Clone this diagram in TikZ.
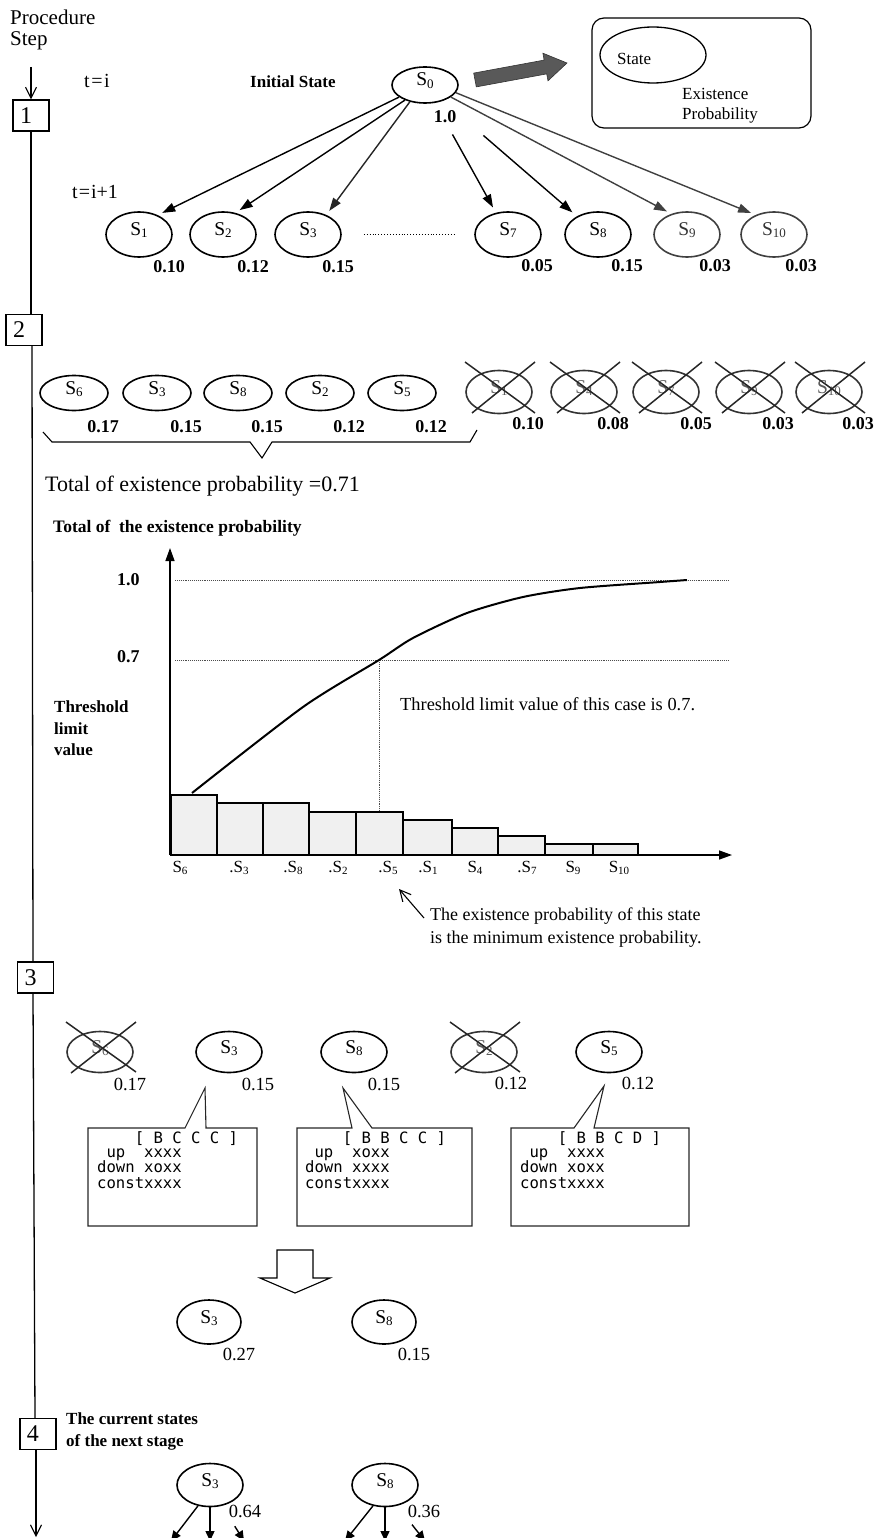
\documentclass[tikz,border=0pt]{standalone}
\usepackage{fontspec}
\setmainfont{Liberation Serif}
\newfontfamily\monof{DejaVu Sans Mono}
\usetikzlibrary{arrows.meta,shapes.geometric}
\newcommand\setfs[1]{\fontsize{#1}{#1}\selectfont}
\newcommand\stt[1]{S\raisebox{-2.5pt}{\setfs{13}#1}}
\newcommand\sttsm[1]{S\raisebox{-2pt}{\setfs{11}#1}}
\begin{document}
\begin{tikzpicture}[x=1pt,y=-1pt,
  ln/.style={line width=1.3pt},
  st/.style={ellipse, draw, line width=1.6pt, inner sep=0pt, minimum width=66pt,
    minimum height=45pt, text height=13pt, text depth=11pt, font=\setfs{19.5}},
  st2/.style={st, minimum width=68pt, minimum height=35pt},
  stx/.style={st, minimum height=43pt, draw=black!80, text=black!65},
  st3/.style={st, minimum height=41pt},
  pb/.style={font=\bfseries\setfs{18}, inner sep=0pt},
  pr/.style={font=\setfs{18.5}, inner sep=0pt},
  stepbox/.style={draw, line width=1.2pt, inner sep=0pt, minimum width=36pt,
    minimum height=31pt, text width=22pt, align=left, font=\setfs{24}},
  tx/.style={inner sep=0pt, anchor=base west},
  tri/.style={-{Triangle[length=13pt,width=9pt]}, line width=1.4pt},
  tri2/.style={-{Triangle[length=10pt,width=9pt]}, line width=1.4pt},
  barb/.style={-{Straight Barb[length=11pt,width=11pt]}, line width=1.1pt},
  cross/.style={line width=1.5pt, black!85},
  bar/.style={draw, line width=1.5pt, fill=gray!12},
  guide/.style={densely dotted, line width=0.9pt, black!70},
  monotx/.style={tx, font=\monof\setfs{15.6}},
  callout/.style={line width=1.1pt, black!85},
]
\useasboundingbox (0,0) rectangle (875,1538);

% ---------- procedure line with step boxes ----------
\node[tx, font=\setfs{21}] at (10,25) {Procedure};
\node[tx, font=\setfs{21}] at (10,46) {Step};
\node[stepbox] (b1) at (31,115.5) {1};
\node[stepbox] (b2) at (24,330) {2};
\node[stepbox] (b3) at (35.5,977.5) {3};
\node[stepbox] (b4) at (38,1434) {4};
\coordinate (top) at (31,67);
\coordinate (bot) at (36,1537);
\draw[barb] (top) -- (b1.north);
\draw[ln] (b1.south) -- (b1.south |- b2.north);
\draw[ln] ([xshift=8pt]b2.south) -- ([xshift=-2.5pt]b3.north);
\draw[ln] ([xshift=-2.5pt]b3.south) -- ([xshift=-3pt]b4.north);
\draw[barb] ([xshift=-2pt]b4.south) -- (bot);

% ---------- step 1 ----------
\node[tx, font=\setfs{20}] at (84,88) {t\hspace{1.5pt}=\hspace{1.5pt}i};
\node[tx, font=\bfseries\setfs{17}] at (250,88) {Initial State};
\node[st, minimum height=36pt] (S0) at (425,85) {\stt{0}};
\node[pb] at ([shift={(20,32)}]S0.center) {1.0};

% legend arrow and legend box
\fill[black!65, draw=black!80, line width=0.6pt] (476.3,86.9) -- (546.7,73.9) -- (548,80.8) -- (567,63)
  -- (542.9,53.2) -- (544.1,60.1) -- (473.7,73.1) -- cycle;
\draw[line width=1.2pt, rounded corners=12pt] (592,18) rectangle (811,128);
\node[ellipse, draw, line width=1.3pt, minimum width=106pt, minimum height=56pt] (leg) at (653,55) {};
\node[tx, font=\setfs{17}] at (617,65) {State};
\node[tx, font=\setfs{17}] at (682,100) {Existence};
\node[tx, font=\setfs{17}] at (682,120) {Probability};

\node[tx, font=\setfs{20}] at (72,199) {t\hspace{1pt}=\hspace{1pt}i+1};
\node[st] (a1) at (139,234.5) {\stt{1}};
\node[st] (a2) at (223,234.5) {\stt{2}};
\node[st] (a3) at (308,234.5) {\stt{3}};
\node[st] (a7) at (508,234.5) {\stt{7}};
\node[st] (a8) at (598,234.5) {\stt{8}};
\node[st, draw=black!75, text=black!80] (a9) at (687,234.5) {\stt{9}};
\node[st, draw=black!75, text=black!80] (a10) at (774,234.5) {\stt{10}};
\node[pb] at ([shift={(30,32.5)}]a1.center) {0.10};
\node[pb] at ([shift={(30,32.5)}]a2.center) {0.12};
\node[pb] at ([shift={(30,32.5)}]a3.center) {0.15};
\node[pb] at ([shift={(29,31)}]a7.center) {0.05};
\node[pb] at ([shift={(29,31)}]a8.center) {0.15};
\node[pb] at ([shift={(28,31)}]a9.center) {0.03};
\node[pb] at ([shift={(27,31)}]a10.center) {0.03};
\draw[dotted, line width=0.9pt] ([xshift=22pt]a3.east) -- ([xshift=-20pt]a7.west);

\draw[tri, shorten >=5pt] (S0.205) -- (a1.46);
\draw[tri, shorten >=5pt] (S0.217) -- (a2.60);
\draw[tri, shorten >=5pt, black!85] (S0.228) -- (a3.47);
\draw[tri, shorten <=36pt, shorten >=6pt] (S0) -- (a7);
\draw[tri, shorten <=53pt, shorten >=6pt] (S0) -- (a8);
\draw[tri, shorten >=5pt, black!75] (S0.-25) -- (a9.127);
\draw[tri, shorten >=5pt, black!75] (S0.-14) -- (a10.133);

% ---------- step 2 ----------
\node[st2] (c6) at (74,393) {\stt{6}};
\node[st2] (c3) at (157,393) {\stt{3}};
\node[st2] (c8) at (238,393) {\stt{8}};
\node[st2] (c2) at (320,393) {\stt{2}};
\node[st2] (c5) at (402,393) {\stt{5}};
\node[pb] at ([shift={(29,34)}]c6.center) {0.17};
\node[pb] at ([shift={(29,34)}]c3.center) {0.15};
\node[pb] at ([shift={(29,34)}]c8.center) {0.15};
\node[pb] at ([shift={(29,34)}]c2.center) {0.12};
\node[pb] at ([shift={(29,34)}]c5.center) {0.12};

\node[stx] (x1) at (499,392) {\stt{1}};
\node[stx] (x4) at (584,392) {\stt{4}};
\node[stx] (x7) at (666,392) {\stt{7}};
\node[stx] (x9) at (749,392) {\stt{9}};
\node[stx] (x10) at (829,392) {\stt{10}};
\foreach \n in {x1,x4,x7,x9,x10}{
  \draw[cross] ([shift={(-34,-30)}]\n.center) -- ([shift={(36,21)}]\n.center);
  \draw[cross] ([shift={(36,-30)}]\n.center) -- ([shift={(-27,21)}]\n.center);
}
\node[pb] at ([shift={(29,32)}]x1.center) {0.10};
\node[pb] at ([shift={(29,32)}]x4.center) {0.08};
\node[pb] at ([shift={(30,32)}]x7.center) {0.05};
\node[pb] at ([shift={(29,32)}]x9.center) {0.03};
\node[pb] at ([shift={(29,32)}]x10.center) {0.03};

% brace under the kept states
\draw[line width=1.1pt] (43,432) -- (52,442) -- (250,442) -- (262,458) -- (272,442) -- (470,442) -- (477,430);
\node[tx, font=\setfs{22}] at (45,491) {Total of existence probability =0.71};

% ---------- cumulative chart ----------
\node[tx, font=\bfseries\setfs{17.5}] at (53,532) {Total of~ the existence probability};
\coordinate (O) at (170,855);
\coordinate (ytop) at (170,548);
\coordinate (xend) at (732,855);
\draw[guide] (175,580) -- (728,580);
\draw[guide] (175,660) -- (728,660);
\draw[guide] (379,660) -- (379,812);
\node[tx, font=\bfseries\setfs{18}] at (117,585) {1.0};
\node[tx, font=\bfseries\setfs{18}] at (117,662) {0.7};
\node[tx, font=\bfseries\setfs{17}] at (54,712) {Threshold};
\node[tx, font=\bfseries\setfs{17}] at (54,734) {limit};
\node[tx, font=\bfseries\setfs{17}] at (54,755) {value};
\node[tx, font=\setfs{18.4}] at (400,710) {Threshold limit value of this case is 0.7.};

\foreach \xa/\xb/\t in {171/217/795, 217/263/803, 263/309/803, 309/356/812, 356/403/812,
    403/452/820, 452/498/828, 498/545/836, 545/593/844, 593/638/844}
  \draw[bar] (\xa,\t) rectangle (\xb,855);
\draw[tri] (O) -- (ytop);
\draw[tri] (O) -- (xend);
\draw[line width=2pt] plot[smooth, tension=0.45] coordinates {(192,793) (303,707) (379,660)
  (413,638) (467,613) (523,597) (580,588) (660,582) (687,580)};

\node[font=\setfs{17}] (l6) at (180,868) {\sttsm{6}};
\node[font=\setfs{17}] (l3) at (239,868) {.\sttsm{3}};
\node[font=\setfs{17}] (l8) at (293,868) {.\sttsm{8}};
\node[font=\setfs{17}] (l2) at (338,868) {.\sttsm{2}};
\node[font=\setfs{17}] (l5) at (388,868) {.\sttsm{5}};
\node[font=\setfs{17}] (l1) at (428,868) {.\sttsm{1}};
\node[font=\setfs{17}] (l4) at (475,868) {\sttsm{4}};
\node[font=\setfs{17}] (l7) at (527,868) {.\sttsm{7}};
\node[font=\setfs{17}] (l9) at (573,868) {\sttsm{9}};
\node[font=\setfs{17}] (l10) at (619,868) {\sttsm{10}};

\node[tx, font=\setfs{18}] (an1) at (430,920) {The existence probability of this state};
\node[tx, font=\setfs{18}] (an2) at (430,943) {is the minimum existence probability.};
\draw[barb] ([shift={(-6,-2)}]an1.base west) -- ([shift={(11,21)}]l5.center);

% ---------- step 3 ----------
\node[stx, minimum height=41pt] (d6) at (100,1052) {\stt{6}};
\node[st3] (d3) at (229,1052) {\stt{3}};
\node[st3] (d8) at (354,1052) {\stt{8}};
\node[stx, minimum height=41pt] (d2) at (484,1052) {\stt{2}};
\node[st3] (d5) at (609,1052) {\stt{5}};
\foreach \n in {d6,d2}{
  \draw[cross] ([shift={(-34,-30)}]\n.center) -- ([shift={(36,20)}]\n.center);
  \draw[cross] ([shift={(36,-30)}]\n.center) -- ([shift={(-29,21)}]\n.center);
}
\node[pr] at ([shift={(30,32)}]d6.center) {0.17};
\node[pr] at ([shift={(29,32)}]d3.center) {0.15};
\node[pr] at ([shift={(30,32)}]d8.center) {0.15};
\node[pr] at ([shift={(27,31)}]d2.center) {0.12};
\node[pr] at ([shift={(29,31)}]d5.center) {0.12};

% callout boxes with the state contents
\draw[callout] (88,1128) -- (185,1128) -- ([shift={(-24,36)}]d3.center) -- (206,1128) -- (257,1128)
  -- (257,1226) -- (88,1226) -- cycle;
\draw[callout] (297,1128) -- (352,1128) -- ([shift={(-11,36)}]d8.center) -- (372,1128) -- (472,1128)
  -- (472,1226) -- (297,1226) -- cycle;
\draw[callout] (511,1128) -- (574,1128) -- ([shift={(-5,34)}]d5.center) -- (594,1128) -- (689,1128)
  -- (689,1226) -- (511,1226) -- cycle;

\node[monotx] at (97,1143) {~~~~[~B~C~C~C~]};
\node[monotx] at (97,1157) {~up~~xxxx};
\node[monotx] at (97,1172.5) {down~xoxx};
\node[monotx] at (97,1188) {constxxxx};

\node[monotx] at (305,1143) {~~~~[~B~B~C~C~]};
\node[monotx] at (305,1157) {~up~~xoxx};
\node[monotx] at (305,1172.5) {down~xxxx};
\node[monotx] at (305,1188) {constxxxx};

\node[monotx] at (520,1143) {~~~~[~B~B~C~D~]};
\node[monotx] at (520,1157) {~up~~xxxx};
\node[monotx] at (520,1172.5) {down~xoxx};
\node[monotx] at (520,1188) {constxxxx};

% hollow merge arrow
\draw[line width=1.1pt, fill=white] (277,1250) -- (313,1250) -- (313,1278) -- (330,1278) -- (295,1293)
  -- (260,1278) -- (277,1278) -- cycle;

\node[st, minimum width=64pt, minimum height=44pt] (e3) at (209,1322) {\stt{3}};
\node[st, minimum width=64pt, minimum height=44pt] (e8) at (384,1322) {\stt{8}};
\node[pr] at ([shift={(30,32)}]e3.center) {0.27};
\node[pr] at ([shift={(30,32)}]e8.center) {0.15};

% ---------- step 4 ----------
\node[tx, font=\bfseries\setfs{17}] at (66,1424) {The current states};
\node[tx, font=\bfseries\setfs{17}] at (66,1446) {of the next stage};
\node[st, minimum height=43pt] (f3) at (210,1485) {\stt{3}};
\node[st, minimum height=43pt] (f8) at (385,1485) {\stt{8}};
\node[pr] at ([shift={(35,26)}]f3.center) {0.64};
\node[pr] at ([shift={(39,26)}]f8.center) {0.36};

\coordinate (g1) at (171,1541);
\coordinate (g2) at (210,1541);
\coordinate (g3) at (244,1541);
\coordinate (h1) at (345,1541);
\coordinate (h2) at (385,1541);
\coordinate (h3) at (425,1541);
\draw[tri2] (f3.-120) -- (g1);
\draw[tri2] (f3.south) -- (g2);
\draw[tri2, shorten <=24pt] (f3.-60) -- (g3);
\draw[tri2] (f8.-120) -- (h1);
\draw[tri2] (f8.south) -- (h2);
\draw[tri2, shorten <=24pt] (f8.-60) -- (h3);
\end{tikzpicture}
\end{document}
